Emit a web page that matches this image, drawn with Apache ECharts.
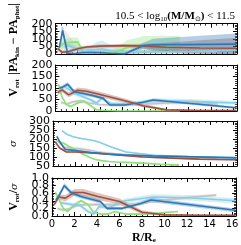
<!DOCTYPE html>
<html><head><meta charset="utf-8">
<script src="https://cdn.jsdelivr.net/npm/echarts@6/dist/echarts.min.js"></script>
<style>html,body{margin:0;padding:0;background:#fff}#c{width:241px;height:245px}</style>
</head><body><div id="c"></div>
<script>
// Radii (R/Re) for each sample
const rBlue  = [0.35, 0.65, 1.1, 1.7, 2.5, 3.4, 4.3, 4.9, 6.2, 7.9, 8.8, 16.3];
const rBrown = [0.2, 0.6, 1.2, 2.0, 2.8, 4.0, 6.0, 8.0, 10.0, 13.0, 16.3];
const rLight = [0.8, 1.2, 1.8, 2.5, 3.2, 3.7, 4.2, 5.0, 6.5, 9.0, 12.0, 16.3];
const rGray  = [0.5, 1.0, 1.6, 2.3, 3.0, 4.0, 5.5, 7.5, 10.0, 12.5, 14.6];
const rGreen = [0.3, 0.6, 1.0, 1.4, 2.0, 2.6, 3.2, 3.7, 4.3, 5.0, 5.6, 6.5, 8.0, 9.5, 11.2];

// Panel 1: |PA_kin - PA_phot|
const paBlue  = [40, 155, 5, 2, 10, 10, 8, 5, 0, 55, 60, 65];
const paBlueE = [15, 30, 10, 8, 8, 8, 8, 8, 8, 20, 40, 70];
const paBrown = [35, 12, 17, 35, 46, 52, 55, 52, 45, 40, 38];
const paBrownE= [15, 10, 10, 10, 10, 10, 10, 15, 30, 50, 70];
const paLight = [50, 55, 35, 15, 25, 30, 35, 20, 8, 15, 18, 25];
const paLightE= [20, 20, 20, 15, 30, 50, 55, 40, 10, 10, 10, 10];
const paGray  = [70, 65, 45, 35, 30, 25, 20, 18, 15, 15, 15];
const paGrayE = [120, 80, 40, 20, 15, 15, 10, 10, 10, 10, 10];
const paGreen = [45, 60, 75, 78, 80, 5, 8, 12, 12, 5, 20, 42, 53, 55, 58];
const paGreenE= [20, 25, 25, 30, 30, 10, 10, 10, 10, 10, 30, 50, 65, 65, 60];

// Panel 2: V_rot
const vBlue  = [99, 104, 116, 84, 76, 66, 55, 26, 26, 38, 48, 14];
const vBlueE = [8, 8, 10, 8, 7, 7, 6, 5, 5, 5, 6, 5];
const vBrown = [80, 92, 70, 90, 86, 72, 48, 22, 5, 2, 2];
const vBrownE= [10, 10, 10, 12, 12, 12, 10, 8, 4, 3, 3];
const vLight = [105, 95, 75, 62, 48, 35, 55, 32, 30, 45, 42, 35];
const vLightE= [10, 10, 10, 8, 8, 8, 8, 8, 8, 10, 10, 8];
const vGray  = [38, 30, 40, 45, 35, 28, 25, 28, 35, 38, 30];
const vGrayE = [8, 6, 6, 6, 6, 6, 6, 6, 8, 8, 8];
const vGreen = [115, 60, 28, 20, 35, 42, 22, 5, 2, 1, 0, 0, 0, 0, 0];
const vGreenE= [10, 8, 6, 6, 6, 6, 6, 3, 2, 1, 1, 1, 1, 1, 1];

// Panel 3: sigma
const sBlue  = [215, 180, 142, 138, 132, 125, 120, 117, 112, 108, 106, 95];
const sBlueE = [6, 5, 5, 4, 4, 4, 4, 4, 4, 4, 4, 4];
const sBrown = [185, 150, 128, 128, 125, 120, 110, 100, 95, 88, 85];
const sBrownE= [5, 5, 5, 4, 4, 4, 4, 4, 4, 4, 4];
const sLight = [246, 228, 212, 203, 196, 190, 180, 160, 128, 110, 103, 97];
const sLightE= [4, 4, 4, 4, 4, 4, 4, 4, 4, 4, 4, 4];
const sGray  = [185, 152, 148, 145, 140, 128, 118, 108, 102, 98, 96];
const sGrayE = [10, 10, 10, 10, 8, 8, 6, 6, 6, 6, 6];
const sGreen = [190, 185, 175, 160, 140, 118, 100, 88, 80, 75, 72, 70, 66, 60, 55];
const sGreenE= [4, 4, 4, 4, 4, 3, 3, 3, 3, 3, 3, 3, 3, 3, 3];

// Panel 4: V_rot / sigma
const qBlue  = [0.42, 0.55, 0.8, 0.62, 0.52, 0.45, 0.38, 0.2, 0.2, 0.33, 0.42, 0.15];
const qBlueE = [0.05, 0.06, 0.07, 0.06, 0.05, 0.05, 0.05, 0.04, 0.04, 0.05, 0.06, 0.05];
const qBrown = [0.3, 0.5, 0.47, 0.62, 0.62, 0.52, 0.38, 0.1, 0.03, 0.02, 0.02];
const qBrownE= [0.05, 0.07, 0.08, 0.09, 0.09, 0.09, 0.08, 0.05, 0.03, 0.02, 0.02];
const qLight = [0.35, 0.33, 0.3, 0.28, 0.12, 0.05, 0.25, 0.22, 0.4, 0.5, 0.48, 0.4];
const qLightE= [0.05, 0.05, 0.05, 0.05, 0.05, 0.04, 0.05, 0.05, 0.06, 0.07, 0.07, 0.07];
const qGray  = [0.2, 0.15, 0.2, 0.28, 0.3, 0.3, 0.3, 0.32, 0.42, 0.5, 0.55];
const qGrayE = [0.04, 0.04, 0.04, 0.04, 0.04, 0.04, 0.04, 0.04, 0.04, 0.04, 0.04];
const qGreen = [0.62, 0.45, 0.2, 0.12, 0.3, 0.4, 0.3, 0.1, 0.05, 0.05, 0.12, 0.05, 0.05, 0.08, 0.12];
const qGreenE= [0.04, 0.04, 0.04, 0.04, 0.04, 0.04, 0.04, 0.03, 0.02, 0.02, 0.02, 0.02, 0.02, 0.02, 0.02];

// Tick labels
const xTicks = [0, 2, 4, 6, 8, 10, 12, 14, 16];
const yTicks1 = [0, 50, 100, 150, 200];
const yTicks2 = [0, 50, 100, 150, 200];
const yTicks3 = [50, 100, 150, 200, 250, 300];
const yTicks4 = [0, 0.2, 0.4, 0.6, 0.8, 1.0];

const C = {gray:'#c4c4c4', green:'#8ee07a', light:'#86cfe6', brown:'#a0503e', blue:'#2b78b6'};

const panels = [
  {ticks:yTicks1, interval:50, fmt:v=>String(v), top:8, h:46,
   name:'{t||PA}{s|kin}{t| − PA}{s|phot}{t||}',
   d:[['gray',rGray,paGray,paGrayE],['green',rGreen,paGreen,paGreenE],['light',rLight,paLight,paLightE],['brown',rBrown,paBrown,paBrownE],['blue',rBlue,paBlue,paBlueE]]},
  {ticks:yTicks2, interval:50, fmt:v=>String(v), top:65, h:46,
   name:'{t|V}{s|rot}',
   d:[['gray',rGray,vGray,vGrayE],['green',rGreen,vGreen,vGreenE],['light',rLight,vLight,vLightE],['brown',rBrown,vBrown,vBrownE],['blue',rBlue,vBlue,vBlueE]]},
  {ticks:yTicks3, interval:50, fmt:v=>String(v), top:121, h:45,
   name:'{g|σ}',
   d:[['gray',rGray,sGray,sGrayE],['green',rGreen,sGreen,sGreenE],['light',rLight,sLight,sLightE],['brown',rBrown,sBrown,sBrownE],['blue',rBlue,sBlue,sBlueE]]},
  {ticks:yTicks4, interval:0.2, fmt:v=>v.toFixed(1), top:178, h:45,
   name:'{t|V}{s|rot}{t|/}{g|σ}',
   d:[['gray',rGray,qGray,qGrayE],['green',rGreen,qGreen,qGreenE],['light',rLight,qLight,qLightE],['brown',rBrown,qBrown,qBrownE],['blue',rBlue,qBlue,qBlueE]]}
];

const richName = {
  t:{fontFamily:'Liberation Serif', fontWeight:'bold', fontSize:12, color:'#000'},
  s:{fontFamily:'Liberation Serif', fontWeight:'bold', fontSize:7, color:'#000', verticalAlign:'bottom', padding:[6,0,0,0]},
  g:{fontFamily:'DejaVu Serif', fontStyle:'italic', fontSize:10, color:'#000'}
};

const grid=[], xAxis=[], yAxis=[], series=[];
const XMAX = 16.35;
panels.forEach((p,i)=>{
  grid.push({left:32, right:4, top:p.top, height:p.h});
  const tick = {show:true, inside:true, length:4, lineStyle:{color:'#000', width:1}};
  const minor = {show:true, splitNumber:4, length:2, lineStyle:{color:'#000', width:0.8}};
  const yminor = {show:true, splitNumber:5, length:2, lineStyle:{color:'#000', width:0.8}};
  const last = i===3;
  const ymin = p.ticks[0], ymax = p.ticks[p.ticks.length-1];
  const xi = xAxis.length, yi = yAxis.length;
  xAxis.push({type:'value', gridIndex:i, min:0, max:XMAX, interval:2, position:'bottom',
    axisLine:{show:true, onZero:false, lineStyle:{color:'#000', width:1}},
    axisTick:tick, minorTick:minor, splitLine:{show:false},
    axisLabel:{show:last, fontFamily:'DejaVu Sans', fontSize:10, color:'#000', margin:3,
      showMinLabel:true, showMaxLabel:true, hideOverlap:false,
      formatter:v=>xTicks.indexOf(v)>=0?String(v):''},
    name:last?'{t|R/R}{s|e}':'', nameLocation:'middle', nameGap:15,
    nameTextStyle:{rich:richName}});
  xAxis.push({type:'value', gridIndex:i, min:0, max:XMAX, interval:2, position:'top',
    axisLine:{show:true, onZero:false, lineStyle:{color:'#000', width:1}},
    axisTick:tick, minorTick:minor, splitLine:{show:false}, axisLabel:{show:false}});
  // main left axis: even-index labels
  yAxis.push({type:'value', gridIndex:i, min:ymin, max:ymax, interval:p.interval, position:'left',
    axisLine:{show:true, onZero:false, lineStyle:{color:'#000', width:1}},
    axisTick:tick, minorTick:yminor, splitLine:{show:false},
    axisLabel:{fontFamily:'DejaVu Sans', fontSize:11, color:'#000', margin:3,
      showMinLabel:true, showMaxLabel:true, hideOverlap:false,
      formatter:v=>{const k=p.ticks.findIndex(t=>Math.abs(t-v)<1e-9); return (k>=0 && k%2===(p.ticks.length%2===0?1:0))?p.fmt(v):'';}},
    name:p.name, nameLocation:'middle', nameRotate:90, nameGap:i===2?19:18,
    nameTextStyle:{rich:richName}});
  yAxis.push({type:'value', gridIndex:i, min:ymin, max:ymax, interval:p.interval, position:'right',
    axisLine:{show:true, onZero:false, lineStyle:{color:'#000', width:1}},
    axisTick:tick, minorTick:yminor, splitLine:{show:false}, axisLabel:{show:false}});
  // second left axis: remaining labels
  yAxis.push({type:'value', gridIndex:i, min:ymin, max:ymax, interval:p.interval, position:'left', offset:0,
    axisLine:{show:false}, axisTick:{show:false}, splitLine:{show:false},
    axisLabel:{fontFamily:'DejaVu Sans', fontSize:11, color:'#000', margin:3,
      showMinLabel:true, showMaxLabel:true, hideOverlap:false,
      formatter:v=>{const k=p.ticks.findIndex(t=>Math.abs(t-v)<1e-9); return (k>=0 && k%2!==(p.ticks.length%2===0?1:0))?p.fmt(v):'';}}});
  p.d.forEach(([c,xs,ys,es])=>{
    series.push({type:'custom', xAxisIndex:xi, yAxisIndex:yi, clip:true, silent:true, z:1,
      data: xs.map((x,k)=>[x, ys[k]]),
      renderItem:(params, api)=>{
        if (params.dataIndex!==0) return null;
        const up = xs.map((x,k)=>api.coord([x, ys[k]+es[k]]));
        const lo = xs.map((x,k)=>api.coord([x, ys[k]-es[k]])).reverse();
        return {type:'polygon', shape:{points:up.concat(lo)}, style:{fill:C[c], opacity:0.35}};
      }});
  });
  p.d.forEach(([c,xs,ys])=>{
    series.push({type:'line', xAxisIndex:xi, yAxisIndex:yi, z:3, showSymbol:false, silent:true,
      data: xs.map((x,k)=>[x, ys[k]]),
      lineStyle:{color:C[c], width:1.6}, itemStyle:{color:C[c]}});
  });
});

const chart = echarts.init(document.getElementById('c'), null, {renderer:'canvas'});
chart.setOption({
  animation:false, backgroundColor:'#fff',
  grid, xAxis, yAxis, series,
  graphic:[{type:'text', right:6, top:11, style:{
    text:'{n|10.5 < log}{s|10}{b|(M/M}{s|⊙}{b|)}{n| < 11.5}',
    rich:{
      n:{fontFamily:'Liberation Serif', fontSize:11, fill:'#000', color:'#000'},
      b:{fontFamily:'Liberation Serif', fontSize:11, fontWeight:'bold', fill:'#000', color:'#000'},
      s:{fontFamily:'Liberation Serif', fontSize:7, fill:'#000', color:'#000', verticalAlign:'bottom', padding:[5,0,0,0]}
    }}}]
});
</script></body></html>
